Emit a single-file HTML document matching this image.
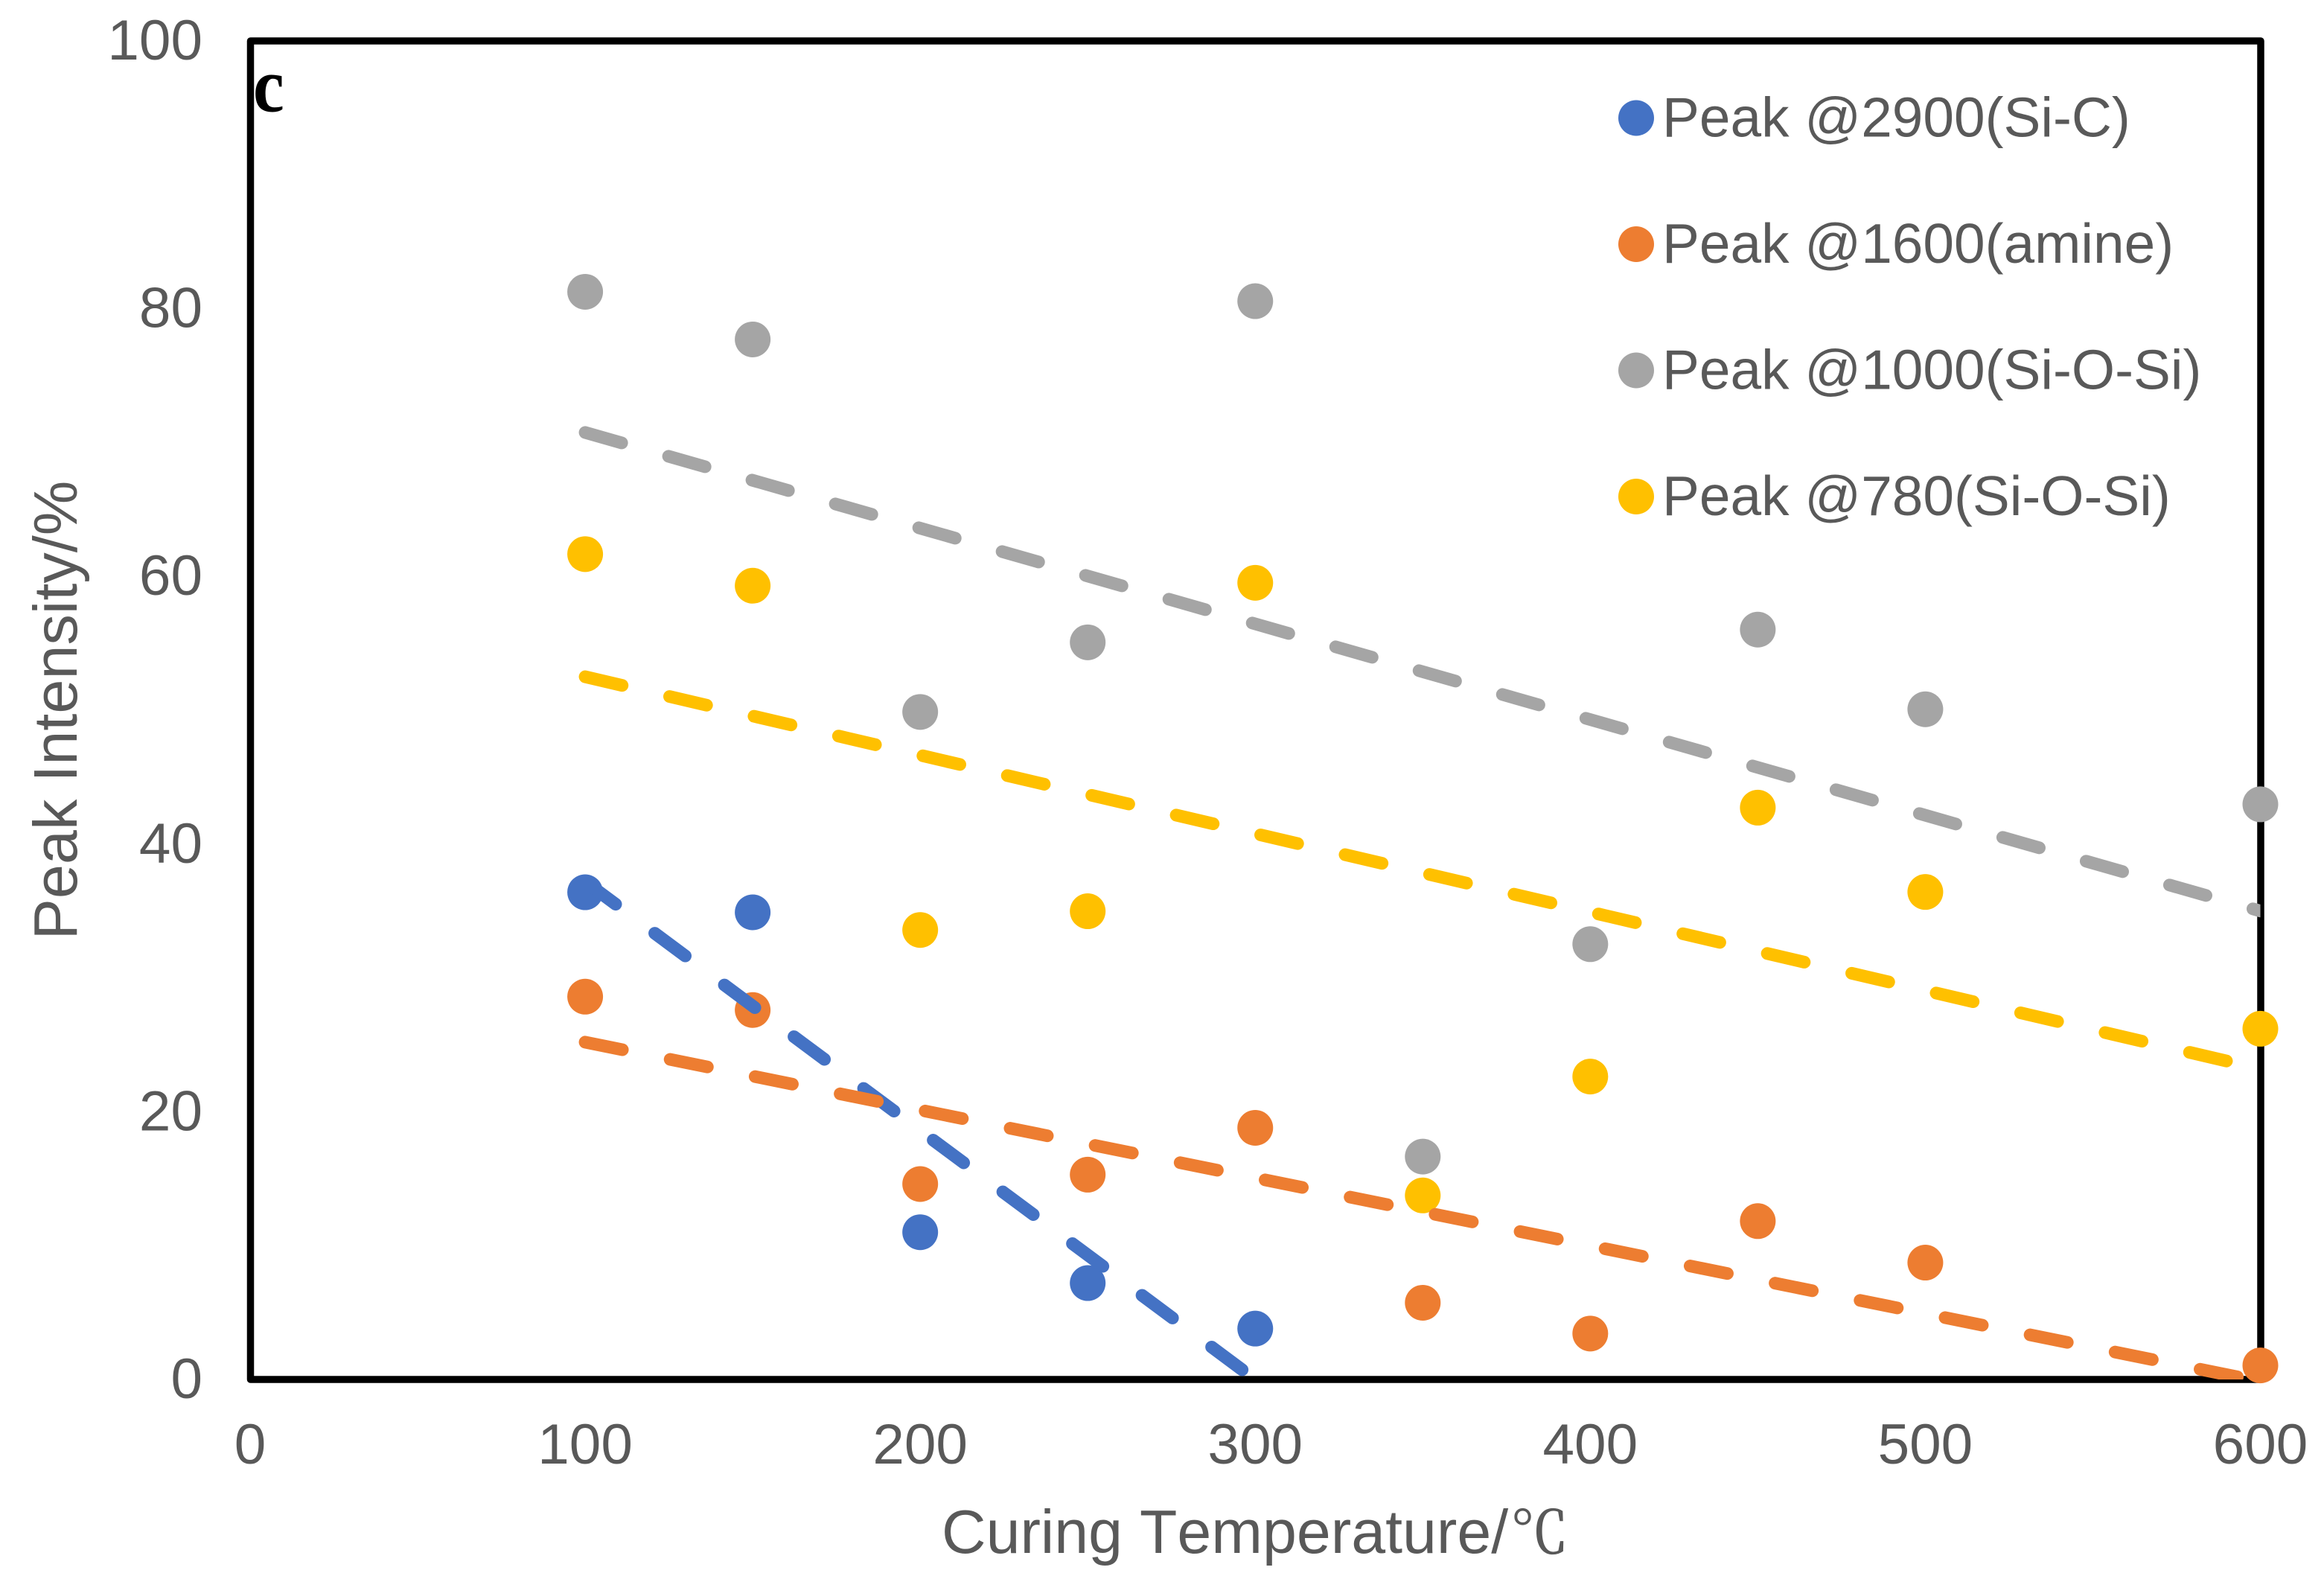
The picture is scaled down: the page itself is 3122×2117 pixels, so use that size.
<!DOCTYPE html>
<html>
<head>
<meta charset="utf-8">
<title>Peak Intensity vs Curing Temperature</title>
<style>
html,body{margin:0;padding:0;background:#fff;width:3122px;height:2117px;overflow:hidden}
svg{display:block}
text{font-family:"Liberation Sans","Noto Sans CJK SC",sans-serif;fill:#595959}
</style>
</head>
<body>
<svg id="chart" xmlns="http://www.w3.org/2000/svg" width="3122" height="2117" viewBox="0 0 3122 2117">
  <defs><clipPath id="plot-clip"><rect x="336" y="55" width="2700.5" height="1798"/></clipPath></defs>
  <rect x="0" y="0" width="3122" height="2117" fill="#ffffff"/>
  <rect x="336.5" y="55" width="2700.5" height="1798" fill="none" stroke="#000000" stroke-width="9.5" stroke-linejoin="round"/>
  <g id="y-ticks"></g>
  <g id="x-ticks"></g>
  <text transform="translate(340,149.5) scale(0.96,1.06)" x="0" y="0" style="font-family:'Liberation Serif',serif;font-weight:bold;font-size:98px;fill:#000">c</text>
  <text transform="translate(103,954) rotate(-90)" text-anchor="middle" font-size="82.8">Peak Intensity/%</text>
  <text x="1265" y="2086" font-size="82.5" style="font-kerning:none">Curing Temperature/<tspan dx="3" style="font-family:'Noto Serif CJK SC',serif;stroke:#595959;stroke-width:1" font-size="78">℃</tspan></text>
  <g id="points"></g>
  <g id="trends" clip-path="url(#plot-clip)"></g>
  <g id="legend"></g>
</svg>
<script>
var xTickLabels = [0, 100, 200, 300, 400, 500, 600];
var yTickLabels = [0, 20, 40, 60, 80, 100];

var temperatures1 = [100, 150, 200, 250, 300];
var temperatures2 = [100, 150, 200, 250, 300, 350, 400, 450, 500, 600];

var peak2900 = [36.4, 34.9, 11.0, 7.2, 3.8];
var peak1600 = [28.6, 27.6, 14.6, 15.3, 18.8, 5.73, 3.43, 11.83, 8.73, 1.05];
var peak1000 = [81.26, 77.7, 49.87, 55.07, 80.56, 16.65, 32.52, 56.02, 50.07, 42.97];
var peak780 = [61.66, 59.3, 33.58, 34.98, 59.52, 13.75, 22.63, 42.72, 36.42, 26.2];

var trend2900X = [100, 300];
var trend2900Y = [37.2, 0];
var trendWideX = [100, 600];
var trend1600Y = [25.2, -0.15];
var trend1000Y = [70.75, 35.0];
var trend780Y = [52.5, 23.2];

var legendLabels = ['Peak @2900(Si-C)', 'Peak @1600(amine)', 'Peak @1000(Si-O-Si)', 'Peak @780(Si-O-Si)'];

var BLUE = '#4472C4', ORANGE = '#ED7D31', GRAY = '#A5A5A5', YELLOW = '#FFC000';
var SVG_NS = 'http://www.w3.org/2000/svg';

function xScale(v) { return 336 + v * (2700.5 / 600); }
function yScale(v) { return 1853 - v * (1798 / 100); }

var yTickGroup = document.getElementById('y-ticks');
yTickLabels.forEach(function (t) {
  var el = document.createElementNS(SVG_NS, 'text');
  
  
  el.setAttribute('x', 272);
  el.setAttribute('y', yScale(t) + 25);
  el.setAttribute('text-anchor', 'end');
  el.setAttribute('font-size', '76.5');
  el.textContent = t;
  yTickGroup.appendChild(el);
});

var xTickGroup = document.getElementById('x-ticks');
xTickLabels.forEach(function (t) {
  var el = document.createElementNS(SVG_NS, 'text');
  
  
  el.setAttribute('x', xScale(t));
  el.setAttribute('y', 1966);
  el.setAttribute('text-anchor', 'middle');
  el.setAttribute('font-size', '76.5');
  el.textContent = t;
  xTickGroup.appendChild(el);
});

function drawPoints(xs, ys, color) {
  var group = document.getElementById('points');
  xs.forEach(function (x, i) {
    var c = document.createElementNS(SVG_NS, 'circle');
    
    
    c.setAttribute('cx', xScale(x));
    c.setAttribute('cy', yScale(ys[i]));
    c.setAttribute('r', 24);
    c.setAttribute('fill', color);
    group.appendChild(c);
  });
}
drawPoints(temperatures1, peak2900, BLUE);
drawPoints(temperatures2, peak1600, ORANGE);
drawPoints(temperatures2, peak1000, GRAY);
drawPoints(temperatures2, peak780, YELLOW);

function drawTrend(xs, ys, color) {
  var group = document.getElementById('trends');
  var line = document.createElementNS(SVG_NS, 'line');
  
  
  line.setAttribute('x1', xScale(xs[0]));
  line.setAttribute('y1', yScale(ys[0]));
  line.setAttribute('x2', xScale(xs[1]));
  line.setAttribute('y2', yScale(ys[1]));
  line.setAttribute('stroke', color);
  line.setAttribute('stroke-width', 17);
  line.setAttribute('stroke-linecap', 'round');
  line.setAttribute('stroke-dasharray', '51 65.5');
  group.appendChild(line);
}
drawTrend(trend2900X, trend2900Y, BLUE);
drawTrend(trendWideX, trend1600Y, ORANGE);
drawTrend(trendWideX, trend1000Y, GRAY);
drawTrend(trendWideX, trend780Y, YELLOW);

var legendGroup = document.getElementById('legend');
var legendColors = [BLUE, ORANGE, GRAY, YELLOW];
legendLabels.forEach(function (label, i) {
  var cy = 158.5 + i * 169.5;
  var m = document.createElementNS(SVG_NS, 'circle');
  
  
  m.setAttribute('cx', 2198);
  m.setAttribute('cy', cy);
  m.setAttribute('r', 24);
  m.setAttribute('fill', legendColors[i]);
  legendGroup.appendChild(m);
  var t = document.createElementNS(SVG_NS, 'text');
  
  
  t.setAttribute('x', 2233);
  t.setAttribute('y', cy + 25);
  t.setAttribute('font-size', '74.8');
  t.textContent = label;
  legendGroup.appendChild(t);
});
</script>
</body>
</html>
